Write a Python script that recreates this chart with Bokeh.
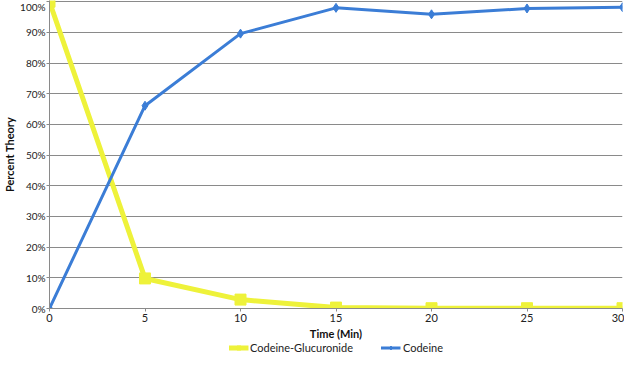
from bokeh.plotting import figure
from bokeh.layouts import column
from bokeh.models import Range1d, FixedTicker, Legend, LegendItem, CustomJSTickFormatter
from bokeh.embed import file_html
from bokeh.resources import INLINE

time_min = [0, 5, 10, 15, 20, 25, 30]
glucuronide = [100, 9.8, 2.9, 0.3, 0.1, 0.1, 0.1]
codeine = [0, 66.1, 89.6, 98.0, 95.9, 97.8, 98.2]
y_ticks = [0, 10, 20, 30, 40, 50, 60, 70, 80, 90, 100]
series_names = ["Codeine-Glucuronide", "Codeine"]

YEL = "#EEF23A"
BLU = "#3B7DD6"
FONT = "Lato"

p = figure(width=624, height=342, output_backend="svg", toolbar_location=None,
           x_range=Range1d(0, 30), y_range=Range1d(0, 100.4),
           min_border_left=30, min_border_right=2, min_border_top=0, min_border_bottom=30)
p.outline_line_color = None
p.background_fill_color = "white"

p.xgrid.grid_line_color = None
p.ygrid.grid_line_color = "#8a8a8a"
p.ygrid.grid_line_width = 1
p.ygrid.ticker = FixedTicker(ticks=y_ticks)

p.yaxis.ticker = FixedTicker(ticks=y_ticks)
p.yaxis.formatter = CustomJSTickFormatter(code="return tick.toFixed(0) + '%';")
p.xaxis.ticker = FixedTicker(ticks=time_min)

for ax in (p.xaxis[0], p.yaxis[0]):
    ax.axis_line_color = "#8a8a8a"
    ax.major_tick_line_color = "#8a8a8a"
    ax.major_tick_out = 3
    ax.major_tick_in = 0
    ax.minor_tick_line_color = None
    ax.major_label_text_font = FONT
    ax.major_label_text_font_size = "11px"
    ax.major_label_text_color = "#222222"
    ax.axis_label_text_font = FONT
    ax.axis_label_text_font_size = "11px"
    ax.axis_label_text_font_style = "bold"
    ax.axis_label_text_color = "#111111"

p.yaxis.major_label_text_font_size = "10px"
p.yaxis.major_label_standoff = 1
p.yaxis.axis_label_standoff = 1
p.xaxis.major_label_standoff = 2
p.xaxis.axis_label_standoff = 2

p.yaxis.axis_label = "Percent Theory"
p.xaxis.axis_label = "Time (Min)"

p.line(time_min, glucuronide, line_color=YEL, line_width=5)
p.scatter(time_min, glucuronide, marker="square", size=11, fill_color=YEL, line_color=YEL)
p.line(time_min, codeine, line_color=BLU, line_width=3)
p.scatter(time_min, codeine, marker="diamond", size=9, fill_color=BLU, line_color=BLU)

# legend row below the chart (its renderers use the same data, kept out of view)
lg = figure(width=624, height=10, output_backend="svg", toolbar_location=None,
            x_range=Range1d(-20, -10), y_range=Range1d(-20, -10),
            min_border_left=40, min_border_right=2, min_border_top=0, min_border_bottom=0)
lg.axis.visible = False
lg.grid.visible = False
lg.outline_line_color = None
gl = lg.line(time_min, glucuronide, line_color=YEL, line_width=5)
gm = lg.scatter(time_min, glucuronide, marker="square", size=9, fill_color=YEL, line_color=YEL)
cl = lg.line(time_min, codeine, line_color=BLU, line_width=3)
cm = lg.scatter(time_min, codeine, marker="diamond", size=8, fill_color=BLU, line_color=BLU)

legend = Legend(items=[LegendItem(label=series_names[0], renderers=[gl, gm]),
                       LegendItem(label=series_names[1], renderers=[cl, cm])],
                orientation="horizontal", location="center")
legend.label_text_font = FONT
legend.label_text_font_size = "11px"
legend.label_text_color = "#222222"
legend.border_line_color = None
legend.background_fill_alpha = 0
legend.glyph_width = 20
legend.glyph_height = 10
legend.spacing = 28
legend.padding = 0
legend.margin = 0
legend.label_standoff = 2
legend.label_height = 10
lg.add_layout(legend, "center")

open("out.html", "w").write(file_html(column(p, lg), INLINE))
